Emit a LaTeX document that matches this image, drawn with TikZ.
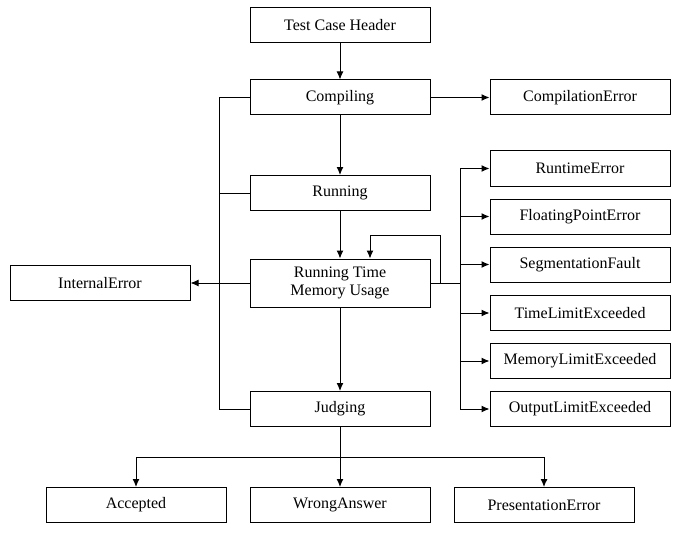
\documentclass[tikz,border=0pt]{standalone}
\usepackage{fontspec}
\setmainfont{Liberation Serif}
\usetikzlibrary{arrows.meta,positioning,calc}

\begin{document}
\begin{tikzpicture}[x = 1pt, y = -1pt, >={Latex[length=8pt,width=7pt]}, line width = 1pt,
  box/.style = {draw, minimum width = 180pt, minimum height = 35pt, align = center, font = \fontsize{16}{18}\selectfont}]
\useasboundingbox (0,0) rectangle (700,540);

\node[box] (header) at (340, 25) {Test Case Header};
\node[box] (compile) at (340, 97.5) {Compiling};
\node[box] (ce) at (580, 97.5) {CompilationError};
\node[box] (run) at (340, 193) {Running};
\node[box, minimum height = 48pt] (usage) at (340, 283) {Running Time\\Memory Usage};
\node[box] (ie) at (100, 283) {InternalError};
\node[box] (judge) at (340, 409) {Judging};

\node[box] (re) at (580, 168.5) {RuntimeError};
\node[box] (fpe) at (580, 216.5) {FloatingPointError};
\node[box] (sf) at (580, 264.5) {SegmentationFault};
\node[box] (tle) at (580, 313) {TimeLimitExceeded};
\node[box] (mle) at (580, 361) {MemoryLimitExceeded};
\node[box] (ole) at (580, 409) {OutputLimitExceeded};

\node[box] (ac) at (136, 505) {Accepted};
\node[box] (wa) at (340, 505) {WrongAnswer};
\node[box] (pe) at (544, 505) {PresentationError};

\draw[->] (header) -- (compile);
\draw[->] (compile) -- (ce);
\draw[->] (compile) -- (run);
\draw[->] (run) -- (usage);
\draw[->] (usage) -- (judge);
\draw[->] (usage) -- (ie);

\draw (compile.west) -- ++(-30,0) |- (judge.west);
\draw (run.west) -- ++(-30,0);

\coordinate (bus) at (460, 283);
\coordinate (loop) at (440, 283);
\draw (usage.east) -- (bus);
\foreach \n in {re,fpe,sf,tle,mle,ole}
  \draw[->] (bus) |- (\n.west);
\draw[->] (loop) -- (440, 235) -| ($(usage.north)+(30,0)$);

\coordinate (split) at (340, 457);
\draw (judge) -- (split);
\draw[->] (split) -| (ac);
\draw[->] (split) -| (pe);
\draw[->] (split) -- (wa);

\end{tikzpicture}
\end{document}
